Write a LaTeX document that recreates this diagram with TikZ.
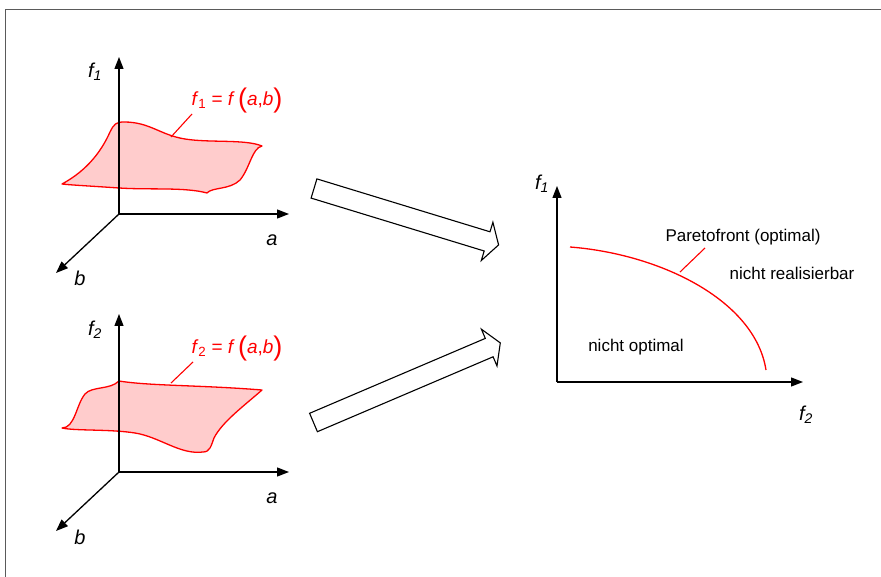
\documentclass[tikz,border=0pt]{standalone}
\usepackage{fontspec}
\setmainfont{Liberation Sans}
\usetikzlibrary{arrows.meta}
\definecolor{surf}{RGB}{255,204,204}
\definecolor{frameg}{RGB}{90,90,90}
\tikzset{
  axis/.style={line width=1.3pt,-{Triangle[length=12pt,width=9pt]}},
  surface/.style={draw=red,fill=surf,line width=1.3pt,line join=round},
  leader/.style={draw=red,line width=1.1pt},
  lbl/.style={inner sep=0pt,font=\fontsize{20}{22}\selectfont\itshape},
  eqlbl/.style={inner sep=0pt,text=red,font=\fontsize{19}{22}\selectfont},
  txt/.style={inner sep=0pt,font=\fontsize{17}{20}\selectfont},
  blockarrow/.style={draw=black,fill=white,line width=1.1pt,line join=miter}
}
\newcommand{\bigpar}[1]{\raisebox{-2.5pt}{\fontsize{27}{27}\selectfont #1}}
\begin{document}
\begin{tikzpicture}[x=1pt,y=-1pt]
\useasboundingbox (0,0) rectangle (881,577);
% frame
\draw[frameg,line width=1pt] (5.5,577) -- (5.5,9.5) -- (881,9.5);

% ---------- upper 3D plot ----------
\coordinate (O1) at (119,214);
\coordinate (Z1) at (119,57);
\coordinate (A1) at (289,214);
\coordinate (B1) at (56,273);
\draw[surface] (62,184) .. controls (88,170) and (102,150) .. (110,132)
  .. controls (114,124) and (116,122) .. (124,122)
  .. controls (150,122) and (160,135) .. (185,139)
  .. controls (210,143) and (245,139) .. (262,146)
  .. controls (252,148) and (250,168) .. (240,180)
  .. controls (230,190) and (212,187) .. (207,193)
  .. controls (185,187) and (150,190) .. (119,188)
  .. controls (90,186) and (70,185) .. cycle;
\draw[axis] (O1) -- (Z1);
\draw[axis] (O1) -- (A1);
\draw[axis] (O1) -- (B1);
\node[lbl] (f1) at (95,72) {f\textsubscript{1}};
\node[lbl] (a1) at (272,240) {a};
\node[lbl] (b1) at (80,278) {b};
\node[eqlbl] (eq1) at (237,101) {\textit{f}\textsubscript{1} = \textit{f}\,\bigpar{(}\textit{a},\textit{b}\bigpar{)}};
\coordinate (s1) at (171,137);
\coordinate (l1) at (192,114);
\draw[leader] (s1) -- (l1);

% ---------- lower 3D plot ----------
\coordinate (O2) at (119,472);
\coordinate (Z2) at (119,314);
\coordinate (A2) at (289,472);
\coordinate (B2) at (56,531);
\draw[surface] (62,428) .. controls (75,428) and (76,405) .. (85,394)
  .. controls (92,386) and (110,390) .. (119,381)
  .. controls (150,386) and (200,385) .. (262,390)
  .. controls (245,405) and (222,422) .. (214,438)
  .. controls (211,446) and (210,452) .. (203,452)
  .. controls (180,455) and (160,437) .. (135,433)
  .. controls (110,429) and (75,431) .. cycle;
\draw[axis] (O2) -- (Z2);
\draw[axis] (O2) -- (A2);
\draw[axis] (O2) -- (B2);
\node[lbl] (f2) at (95,330) {f\textsubscript{2}};
\node[lbl] (a2) at (272,498) {a};
\node[lbl] (b2) at (80,537) {b};
\node[eqlbl] (eq2) at (237,349) {\textit{f}\textsubscript{2} = \textit{f}\,\bigpar{(}\textit{a},\textit{b}\bigpar{)}};
\coordinate (s2) at (171,383);
\coordinate (l2) at (193,362);
\draw[leader] (s2) -- (l2);

% ---------- block arrows ----------
\draw[blockarrow] (316.9,178.9) -- (490.0,231.8) -- (492.9,222.3) -- (498.6,244.9)
  -- (481.3,260.5) -- (484.2,251.0) -- (311.1,198.1) -- cycle;
\draw[blockarrow] (309.6,413.3) -- (485.3,338.4) -- (481.4,329.2) -- (500.3,342.9)
  -- (497.0,366.0) -- (493.1,356.8) -- (317.4,431.7) -- cycle;

% ---------- Pareto plot ----------
\coordinate (O3) at (557,382);
\coordinate (Y3) at (557,186);
\coordinate (X3) at (803,382);
\draw[axis] (O3) -- (Y3);
\draw[axis] (O3) -- (X3);
\node[lbl] (f1r) at (542,184) {f\textsubscript{1}};
\node[lbl] (f2r) at (806,415) {f\textsubscript{2}};
\coordinate (p0) at (570,247);
\coordinate (p1) at (766,370);
\draw[red,line width=1.3pt] (p0) .. controls (660,254) and (755,300) .. (p1);
\node[txt] (pf) at (743,237) {Paretofront (optimal)};
\node[txt] (nr) at (792,273) {nicht realisierbar};
\node[txt] (no) at (636,347) {nicht optimal};
\coordinate (s3) at (680,272);
\coordinate (l3) at (705,248);
\draw[leader] (s3) -- (l3);
\end{tikzpicture}
\end{document}
